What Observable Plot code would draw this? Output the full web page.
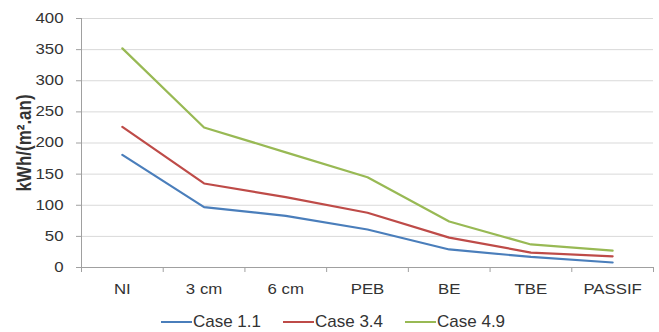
<!DOCTYPE html>
<html>
<head>
<meta charset="utf-8">
<script src="https://cdn.jsdelivr.net/npm/d3@7"></script>
<script src="https://cdn.jsdelivr.net/npm/@observablehq/plot@0.6"></script>
<style>
  body { margin: 0; background: #fff; font-family: "Liberation Sans", Arial, sans-serif; }
  #legend { display: flex; justify-content: center; gap: 22px; margin-top: 12px; height: 20px; line-height: 20px; font-size: 17px; color: #333; padding-left: 7px; }
  #legend .item { display: flex; align-items: center; }
  #legend .sw { width: 31px; height: 2px; margin-right: 1px; }
</style>
</head>
<body>
<div id="chart"></div>
<div id="legend"></div>
<script>
const categories = ["NI", "3 cm", "6 cm", "PEB", "BE", "TBE", "PASSIF"];
const seriesNames = ["Case 1.1", "Case 3.4", "Case 4.9"];
const case11 = [181, 97, 83, 61, 29, 17, 8];
const case34 = [226, 135, 113, 88, 48, 24, 18];
const case49 = [352, 225, 185, 145, 74, 37, 27];
const colors = ["#4a7ebb", "#be4b48", "#98b954"];
const yTicks = [0, 50, 100, 150, 200, 250, 300, 350, 400];

const allSeries = [case11, case34, case49];
const data = [];
allSeries.forEach((vals, s) => vals.forEach((v, i) => data.push({series: seriesNames[s], i, v})));
const catIdx = categories.map((c, i) => i);
const boundaries = categories.map((c, i) => i - 0.5).concat([categories.length - 0.5]);

const chart = Plot.plot({
  width: 659,
  height: 300,
  marginLeft: 81,
  marginRight: 6,
  marginTop: 18,
  marginBottom: 33,
  style: {fontFamily: "'Liberation Sans', Arial, sans-serif", fontSize: "14px", color: "#333", background: "#fff"},
  x: {domain: [-0.5, categories.length - 0.5]},
  y: {domain: [0, 400]},
  color: {domain: seriesNames, range: colors},
  marks: [
    Plot.gridY(yTicks, {stroke: "#d9d9d9", strokeOpacity: 1}),
    Plot.ruleX([-0.5], {stroke: "#a0a0a0"}),
    Plot.ruleY([0], {stroke: "#a0a0a0"}),
    Plot.axisY(yTicks, {tickSize: 5, tickPadding: 13, stroke: "#a0a0a0", fill: "#333",
      label: "kWh/(m².an)", labelAnchor: "center", labelArrow: "none", labelOffset: 65}),
    Plot.axisX(boundaries, {tickSize: 5, stroke: "#a0a0a0", text: null, label: null}),
    Plot.axisX(catIdx, {tickSize: 0, tickPadding: 17, tickFormat: i => categories[i], fill: "#333", label: null}),
    Plot.line(data, {x: "i", y: "v", z: "series", stroke: "series", strokeWidth: 2.2, curve: "linear"})
  ]
});
// widen tick labels horizontally like the reference rendering
chart.querySelectorAll("g[aria-label='y-axis tick label'] text, g[aria-label='x-axis tick label'] text").forEach(t => {
  const tr = t.getAttribute("transform") || "";
  t.setAttribute("transform", tr + " scale(1.2,1)");
});
// y-axis title: bold, larger, widened in screen x
chart.querySelectorAll("g[aria-label='y-axis label'] text").forEach(t => {
  t.setAttribute("font-weight", "bold");
  t.setAttribute("font-size", "17px");
  const tr = t.getAttribute("transform") || "";
  t.setAttribute("transform", tr + " scale(1,1.2)");
});
document.getElementById("chart").appendChild(chart);

const legend = document.getElementById("legend");
seriesNames.forEach((name, s) => {
  const item = document.createElement("div");
  item.className = "item";
  const sw = document.createElement("span");
  sw.className = "sw";
  sw.style.background = colors[s];
  const t = document.createElement("span");
  t.textContent = name;
  item.appendChild(sw);
  item.appendChild(t);
  legend.appendChild(item);
});
</script>
</body>
</html>
